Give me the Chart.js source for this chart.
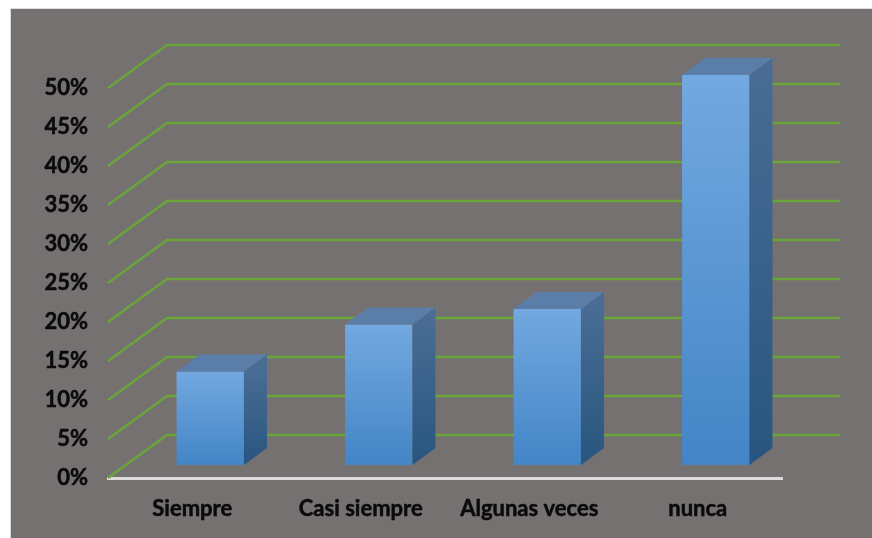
<!DOCTYPE html>
<html>
<head>
<meta charset="utf-8">
<script src="https://cdn.jsdelivr.net/npm/chart.js@4"></script>
<style>
html, body { margin: 0; padding: 0; background: #fff; overflow: hidden; }
#panel { position: absolute; left: 10px; top: 8px; right: 0; bottom: 0; background: #767171; border-left: 1px solid #d5dbe6; border-top: 1px solid #d9dbe0; }
#myChart { position: absolute; left: 0; top: 0; }
</style>
</head>
<body>
<div id="panel"></div>
<canvas id="myChart" width="872" height="538"></canvas>
<script>
const categories = ['Siempre', 'Casi siempre', 'Algunas veces', 'nunca'];
const percentValues = [12, 18, 20, 50];
const tickValues = [0, 5, 10, 15, 20, 25, 30, 35, 40, 45, 50];

// Fake 3D: how far the back wall and the bars sit from the front plane
const wallDepth = { x: 59, y: -43 };
const barShift = { x: 18, y: -13 };
const barDepth = { x: 23, y: -17 };

const labelFont = { family: 'Lato', size: 22, weight: 'bold' };

function linearFill(ctx, y0, y1, from, to) {
    const g = ctx.createLinearGradient(0, y0, 0, y1);
    g.addColorStop(0, from);
    g.addColorStop(1, to);
    return g;
}

const wallPlugin = {
    id: 'wall',
    beforeDatasetsDraw(chart) {
        const { ctx, chartArea, scales } = chart;
        ctx.save();
        ctx.strokeStyle = '#6aa53a';
        ctx.lineWidth = 2.5;
        tickValues.forEach(v => {
            const y = scales.y.getPixelForValue(v);
            ctx.beginPath();
            ctx.moveTo(chartArea.left, y);
            ctx.lineTo(chartArea.left + wallDepth.x, y + wallDepth.y);
            ctx.lineTo(chartArea.right + wallDepth.x - 1, y + wallDepth.y);
            ctx.stroke();
        });
        ctx.restore();
    }
};

const boxPlugin = {
    id: 'box',
    beforeDatasetDraw(chart) {
        // bars stand a little behind the front plane
        chart.ctx.save();
        chart.ctx.translate(barShift.x, barShift.y);
    },
    afterDatasetDraw(chart, args) {
        const { ctx } = chart;
        args.meta.data.forEach(bar => {
            const right = bar.x + bar.width / 2;
            const left = bar.x - bar.width / 2;
            // side face
            ctx.fillStyle = linearFill(ctx, bar.y, bar.base, '#486c94', '#28557f');
            ctx.beginPath();
            ctx.moveTo(right, bar.y);
            ctx.lineTo(right + barDepth.x, bar.y + barDepth.y);
            ctx.lineTo(right + barDepth.x, bar.base + barDepth.y);
            ctx.lineTo(right, bar.base);
            ctx.closePath();
            ctx.fill();
            // top face
            ctx.fillStyle = '#5a7ea8';
            ctx.beginPath();
            ctx.moveTo(left, bar.y);
            ctx.lineTo(left + barDepth.x, bar.y + barDepth.y);
            ctx.lineTo(right + barDepth.x, bar.y + barDepth.y);
            ctx.lineTo(right, bar.y);
            ctx.closePath();
            ctx.fill();
        });
        ctx.restore();
    }
};

new Chart(document.getElementById('myChart').getContext('2d'), {
    type: 'bar',
    data: {
        labels: categories,
        datasets: [{
            data: percentValues,
            clip: false,
            barPercentage: 0.4,
            categoryPercentage: 1,
            backgroundColor(context) {
                const { ctx, scales } = context.chart;
                const y0 = scales.y ? scales.y.getPixelForValue(percentValues[context.dataIndex]) : NaN;
                const y1 = scales.y ? scales.y.getPixelForValue(0) : NaN;
                if (!Number.isFinite(y0) || !Number.isFinite(y1)) return '#5a9ad8';
                return linearFill(ctx, y0, y1, '#73a8e0', '#4385c6');
            }
        }]
    },
    options: {
        responsive: false,
        animation: false,
        layout: { padding: { top: 88, right: 90, left: 0, bottom: 0 } },
        plugins: { legend: { display: false }, tooltip: { enabled: false } },
        scales: {
            x: {
                grid: { display: false },
                border: { color: '#dcdcdc', width: 3 },
                ticks: { color: '#0a0a0a', font: labelFont, padding: 10, maxRotation: 0, textStrokeColor: '#0a0a0a', textStrokeWidth: 0.5 },
                afterFit(scale) { scale.height = 60; }
            },
            y: {
                min: 0,
                max: 50,
                afterBuildTicks(scale) { scale.ticks = tickValues.map(value => ({ value })); },
                grid: { display: false },
                border: { display: false },
                ticks: {
                    color: '#0a0a0a',
                    font: labelFont,
                    padding: 12,
                    textStrokeColor: '#0a0a0a',
                    textStrokeWidth: 0.5,
                    callback: v => v + '%'
                },
                afterFit(scale) { scale.width = 108; }
            }
        }
    },
    plugins: [wallPlugin, boxPlugin]
});
</script>
</body>
</html>
